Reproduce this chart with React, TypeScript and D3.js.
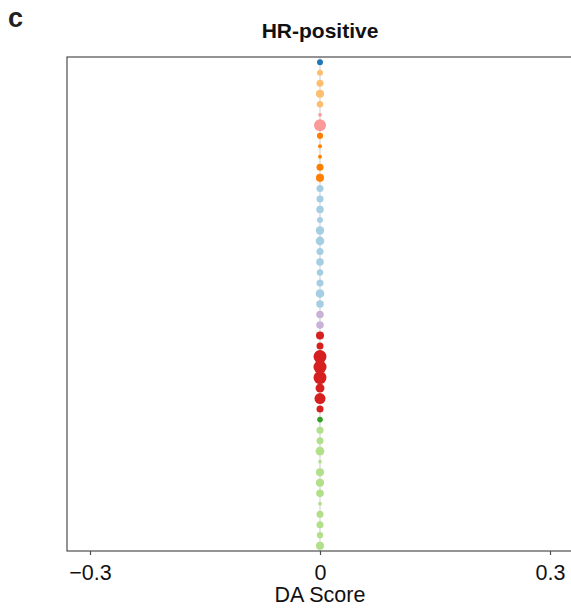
import React, { useEffect, useRef } from 'react';
import * as d3 from 'd3';

// neighbourhood groups, top to bottom
const groups = [
  'B', 'CAF1', 'CAF1', 'CAF1', 'CAF1', 'Endo', 'Endo', 'Myeloid', 'Myeloid', 'Myeloid', 'Myeloid', 'Myeloid',
  'CD8', 'CD8', 'CD8', 'CD8', 'CD8', 'CD8', 'CD8', 'CD8', 'CD8', 'CD8', 'CD8', 'CD8',
  'Peri', 'Peri',
  'Epi', 'Epi', 'Epi', 'Epi', 'Epi', 'Epi', 'Epi', 'Epi',
  'NK',
  'CD4', 'CD4', 'CD4', 'CD4', 'CD4', 'CD4', 'CD4', 'CD4', 'CD4', 'CD4', 'CD4', 'CD4',
];
const daScore = [
  0, 0, 0, 0, 0, 0, 0, 0, 0, 0, 0, 0,
  0, 0, 0, 0, 0, 0, 0, 0, 0, 0, 0, 0,
  0, 0,
  0, 0, 0, 0, 0, 0, 0, 0,
  0,
  0, 0, 0, 0, 0, 0, 0, 0, 0, 0, 0, 0,
];
const nhoodSize = [
  18, 18, 25, 33, 22, 7, 73, 20, 8, 8, 25, 33,
  25, 25, 29, 18, 36, 38, 25, 29, 22, 25, 38, 29,
  29, 29,
  33, 25, 86, 86, 86, 41, 62, 25,
  16,
  25, 25, 38, 7, 33, 33, 29, 7, 25, 25, 20, 33,
];
const groupNames = ['B', 'CAF1', 'Endo', 'Myeloid', 'CD8', 'Peri', 'Epi', 'NK', 'CD4'];
const groupColors = ['#1f78b4', '#fdbf6f', '#fb9a99', '#ff7f00', '#a6cee3', '#cab2d6', '#d62020', '#33a02c', '#b2df8a'];
const xTicks = [-0.3, 0, 0.3];

const App = () => {
  const svgRef = useRef<SVGSVGElement>(null);

  useEffect(() => {
    const width = 571, height = 610;
    const margin = { top: 57, right: -2, bottom: 59, left: 67 };
    const font = '"Liberation Sans", Arial, sans-serif';

    const svg = d3.select(svgRef.current);
    svg.selectAll('*').remove();
    svg.attr('width', width).attr('height', height).style('background', 'white');

    const x = d3.scaleLinear().domain([-0.33, 0.33]).range([margin.left, width - margin.right]);
    const y = d3.scaleBand<number>()
      .domain(d3.range(groups.length))
      .range([margin.top, height - margin.bottom])
      .paddingOuter(0);
    const r = d3.scaleSqrt().domain([0, 100]).range([0, 7]);
    const color = d3.scaleOrdinal<string, string>().domain(groupNames).range(groupColors);

    const data = groups.map((g, i) => ({ g, i, v: daScore[i], s: nhoodSize[i] }));

    // zero guide
    svg.append('line')
      .attr('x1', x(0)).attr('x2', x(0))
      .attr('y1', margin.top).attr('y2', height - margin.bottom)
      .attr('stroke', '#dcdcdc').attr('stroke-width', 1.5);

    svg.append('g')
      .selectAll('circle')
      .data(data)
      .enter()
      .append('circle')
      .attr('cx', d => x(d.v))
      .attr('cy', d => (y(d.i) as number) + y.bandwidth() / 2)
      .attr('r', d => r(d.s))
      .attr('fill', d => color(d.g));

    // frame
    svg.append('rect')
      .attr('x', margin.left).attr('y', margin.top)
      .attr('width', width - margin.right - margin.left)
      .attr('height', height - margin.bottom - margin.top)
      .attr('fill', 'none').attr('stroke', '#4d4d4d').attr('stroke-width', 1.2);

    const axis = svg.append('g')
      .attr('transform', `translate(0,${height - margin.bottom})`)
      .call(d3.axisBottom(x).tickValues(xTicks).tickSize(4)
        .tickFormat(d => (+d === 0 ? '0' : d3.format('.1f')(+d).replace('-', '\u2212'))));
    axis.select('.domain').remove();
    axis.selectAll('line').attr('stroke', '#4d4d4d').attr('stroke-width', 1.2);
    axis.selectAll('text')
      .attr('y', 28.5).attr('dy', null)
      .attr('font-family', font).attr('font-size', 21.5).attr('fill', '#111');

    svg.append('text')
      .attr('x', x(0)).attr('y', 602)
      .attr('text-anchor', 'middle')
      .attr('font-family', font).attr('font-size', 21.5).attr('fill', '#111')
      .text('DA Score');

    svg.append('text')
      .attr('x', x(0)).attr('y', 38)
      .attr('text-anchor', 'middle')
      .attr('font-family', font).attr('font-size', 21).attr('font-weight', 'bold').attr('fill', '#111')
      .text('HR-positive');

    svg.append('text')
      .attr('x', 8).attr('y', 26.5)
      .attr('font-family', font).attr('font-size', 27).attr('font-weight', 'bold').attr('fill', '#231f20')
      .text('c');
  }, []);

  return <svg ref={svgRef} style={{ position: 'absolute', left: 0, top: 0 }} />;
};

export default App;
